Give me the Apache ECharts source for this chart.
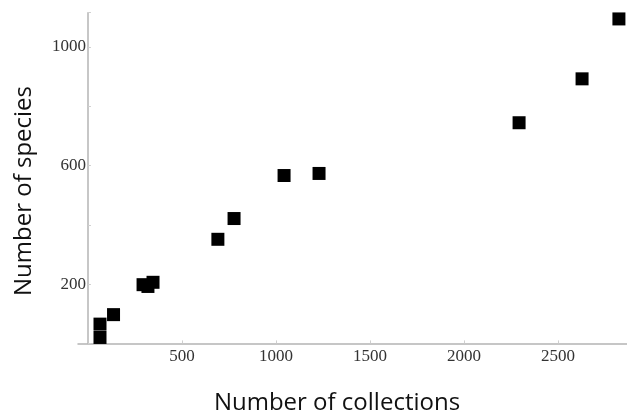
<!DOCTYPE html>
<html>
<head>
<meta charset="utf-8">
<script src="https://cdn.jsdelivr.net/npm/echarts@6/dist/echarts.min.js"></script>
<style>html,body{margin:0;padding:0;background:#fff}#c{width:627px;height:414px}</style>
</head>
<body>
<div id="c"></div>
<script>
const collections = [64, 64, 136, 293, 319, 346, 691, 777, 1043, 1229, 2293, 2628, 2824];
const species     = [20, 65, 97, 198, 192, 206, 351, 421, 566, 573, 744, 892, 1094];
const xTickLabels = [500, 1000, 1500, 2000, 2500];
const yTickLabels = [200, 600, 1000];

const points = collections.map((c, i) => [c, species[i]]);
const chart = echarts.init(document.getElementById('c'));
chart.setOption({
  animation: false,
  grid: { left: 78, right: 0, top: 12.7, bottom: 70.6, containLabel: false },
  xAxis: {
    type: 'value', min: -53, max: 2867,
    splitLine: { show: false },
    axisLine: { lineStyle: { color: '#b4b4b4', width: 1.5 } },
    axisTick: { inside: true, length: 3, customValues: xTickLabels, lineStyle: { color: '#cfcfcf' } },
    axisLabel: {
      margin: 5, color: '#333', fontFamily: 'Liberation Serif', fontSize: 17,
      customValues: xTickLabels, formatter: v => String(v)
    }
  },
  yAxis: {
    type: 'value', min: 0, max: 1115, interval: 200,
    splitLine: { show: false },
    axisLine: { onZero: true, lineStyle: { color: '#b4b4b4', width: 1.5 } },
    axisTick: { inside: true, length: 3, lineStyle: { color: '#cfcfcf' } },
    axisLabel: {
      margin: -8, color: '#333', fontFamily: 'Liberation Serif', fontSize: 17,
      formatter: v => yTickLabels.includes(v) ? String(v) : ''
    }
  },
  graphic: [
    { type: 'text', x: 337, y: 403, style: { text: 'Number of collections', align: 'center', verticalAlign: 'middle', fontFamily: 'Open Sans', fontSize: 24, fill: '#111' } },
    { type: 'text', x: 24, y: 191, rotation: Math.PI / 2, style: { text: 'Number of species', align: 'center', verticalAlign: 'middle', fontFamily: 'Open Sans', fontSize: 24, fill: '#111' } }
  ],
  series: [{
    type: 'scatter', symbol: 'rect', symbolSize: 13,
    itemStyle: { color: '#000', opacity: 1 },
    data: points
  }]
});
</script>
</body>
</html>
